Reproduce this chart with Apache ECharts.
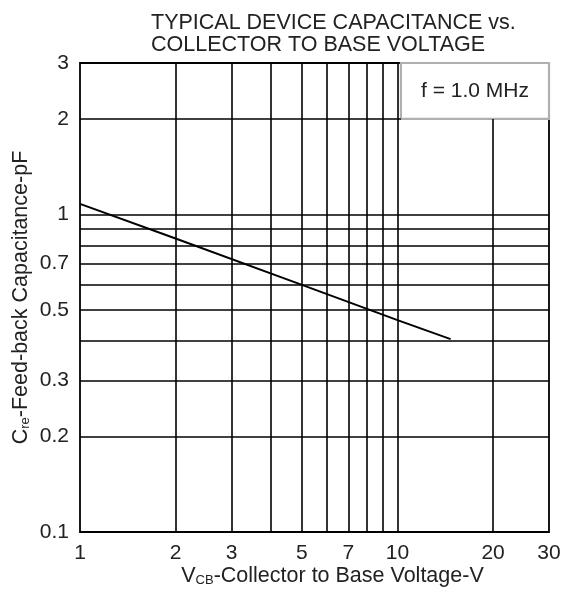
<!DOCTYPE html>
<html><head><meta charset="utf-8">
<script src="https://cdn.jsdelivr.net/npm/echarts@6/dist/echarts.min.js"></script>
<style>html,body{margin:0;padding:0;background:#fff}#c{width:571px;height:592px}</style>
</head><body><div id="c"></div>
<script>
const voltage = [1, 2, 5, 10, 14.7];
const capacitance = [1.08, 0.84, 0.60, 0.465, 0.405];
const xTickLabels = [1, 2, 3, 5, 7, 10, 20, 30];
const yTickLabels = [0.1, 0.2, 0.3, 0.5, 0.7, 1, 2, 3];
const xGridValues = [2, 3, 4, 5, 6, 7, 8, 9, 10, 20];
const yGridValues = [0.2, 0.3, 0.4, 0.5, 0.6, 0.7, 0.8, 0.9, 1, 2];
const xRange = [1, 30];
const yRange = [0.1, 3];
const noteX = [10.25, 30];
const noteY = [2, 3];
const noteText = 'f = 1.0 MHz';
const titleLines = ['TYPICAL DEVICE CAPACITANCE vs.', 'COLLECTOR TO BASE VOLTAGE'];

const FONT = 'Liberation Sans, Arial, sans-serif';
const TXT = '#222';
const chart = echarts.init(document.getElementById('c'), null, {renderer: 'canvas'});

const gridLineStyle = {color: '#000', width: 1.6, type: 'solid'};
const hiddenLine = {color: 'rgba(0,0,0,0)', width: 0};

// gridlines: stop those that would pass under the note box
const gridData = [];
xGridValues.forEach(v => {
  if (v > noteX[0]) gridData.push([{coord: [v, yRange[0]]}, {coord: [v, noteY[0]]}]);
  else gridData.push({xAxis: v});
});
yGridValues.forEach(v => {
  if (v >= noteY[0]) gridData.push([{coord: [xRange[0], v]}, {coord: [noteX[0], v]}]);
  else gridData.push({yAxis: v});
});

chart.setOption({
  animation: false,
  backgroundColor: '#fff',
  title: {
    text: titleLines.join('\n'),
    left: 146, top: 7,
    textStyle: {fontFamily: FONT, fontSize: 21.5, fontWeight: 'normal', color: TXT, lineHeight: 22}
  },
  grid: {left: 80, right: 22, top: 63, bottom: 57, show: true, borderColor: '#000', borderWidth: 1.8, backgroundColor: 'transparent'},
  xAxis: {
    type: 'log', logBase: 10, min: xRange[0], max: xRange[1],
    axisLine: {show: false}, axisTick: {show: false}, axisLabel: {show: false}, splitLine: {show: false},
    name: '{n|V}{s|CB}{n|-Collector to Base Voltage-V}',
    nameLocation: 'middle', nameGap: 33,
    nameTextStyle: {padding: [0, 0, 0, 36], rich: {
      n: {fontFamily: FONT, fontSize: 21.5, color: TXT},
      s: {fontFamily: FONT, fontSize: 13, color: TXT, verticalAlign: 'bottom', padding: [8, 0, 0, 0]}
    }}
  },
  yAxis: {
    type: 'log', logBase: 10, min: yRange[0], max: yRange[1],
    axisLine: {show: false}, axisTick: {show: false}, axisLabel: {show: false}, splitLine: {show: false},
    name: '{n|C}{s|re}{n|-Feed-back Capacitance-pF}',
    nameLocation: 'middle', nameGap: 48, nameRotate: 90,
    nameTextStyle: {rich: {
      n: {fontFamily: FONT, fontSize: 21.5, color: TXT},
      s: {fontFamily: FONT, fontSize: 13, color: TXT, verticalAlign: 'bottom', padding: [8, 0, 0, 0]}
    }}
  },
  series: [
    {
      type: 'line', data: [], silent: true, z: 1,
      markLine: {
        silent: true, symbol: ['none', 'none'], animation: false,
        lineStyle: gridLineStyle, label: {show: false},
        data: gridData
      }
    },
    {
      type: 'line', data: [], silent: true, z: 3,
      markArea: {
        silent: true,
        itemStyle: {color: '#fff', borderColor: '#b0b0b0', borderWidth: 2.2},
        label: {show: true, position: 'inside', formatter: noteText, fontFamily: FONT, fontSize: 21, color: TXT},
        data: [[{xAxis: noteX[0], yAxis: noteY[0]}, {xAxis: noteX[1], yAxis: noteY[1]}]]
      }
    },
    {
      type: 'line', data: [], silent: true, z: 4,
      markLine: {
        silent: true, symbol: ['none', 'none'], animation: false,
        lineStyle: hiddenLine,
        label: {show: true, position: 'start', fontFamily: FONT, fontSize: 21, color: TXT, distance: 11, formatter: p => String(p.value)},
        data: xTickLabels.map(v => ({xAxis: v})).concat(yTickLabels.map(v => ({yAxis: v})))
      }
    },
    {
      type: 'line', z: 5, showSymbol: false, smooth: false,
      lineStyle: {color: '#000', width: 2},
      data: voltage.map((v, i) => [v, capacitance[i]])
    }
  ]
});
</script></body></html>
